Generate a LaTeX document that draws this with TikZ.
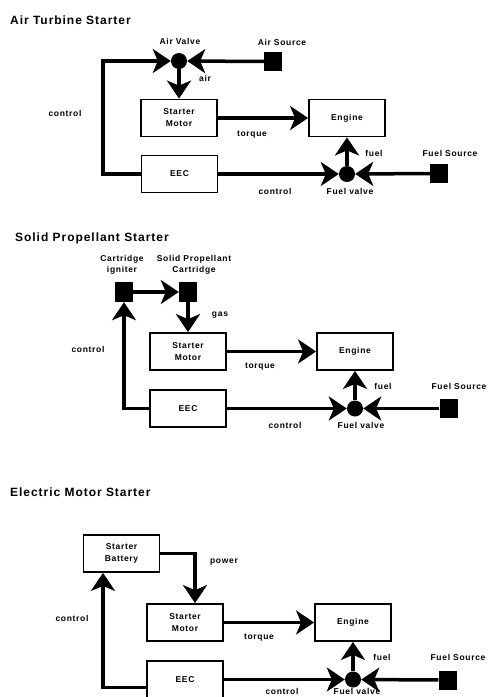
\documentclass[tikz,border=0pt]{standalone}
\usepackage{fontspec}
\setmainfont{Liberation Sans}[LetterSpace=8]
\usetikzlibrary{arrows.meta,positioning}

\begin{document}
\begin{tikzpicture}[x=1pt,y=-1pt,
  box/.style={draw, line width=1.8pt, minimum width=76pt, minimum height=37pt, align=center, inner sep=1pt, font=\fontsize{8.5}{12}\selectfont\bfseries},
  src/.style={fill, minimum width=18pt, minimum height=19pt, inner sep=0pt},
  valve/.style={circle, fill, minimum size=16pt, inner sep=0pt},
  flow/.style={-{Stealth[length=18pt, width=24pt, inset=5pt]}, line width=3.5pt},
  lbl/.style={font=\fontsize{8.5}{11}\selectfont\bfseries, inner sep=1pt, align=center},
  ttl/.style={font=\fontsize{12}{14}\selectfont\bfseries, anchor=west, inner sep=0pt}
]
  \useasboundingbox (0,0) rectangle (489,697);

  % Air Turbine Starter
  \node[ttl] (t1) at (10,20) {Air Turbine Starter};
  \node[valve] (av) at (179,61) {};
  \node[lbl] (avl) at (180,41) {Air Valve};
  \node[src] (as) at (273,61.5) {};
  \node[lbl] (asl) at (282,42) {Air Source};
  \node[box] (sm1) at (179,118) {Starter\\Motor};
  \node[box] (en1) at (347,118) {Engine};
  \node[box] (eec1) at (179.5,174) {EEC};
  \node[valve] (fv1) at (347,174) {};
  \node[src] (fs1) at (439,173.5) {};
  \node[lbl] (fsl1) at (450,153) {Fuel Source};
  \coordinate (c1) at (103,61);
  \draw[flow] (as) -- (av);
  \draw[flow] (eec1.west) -| (c1) -- (av);
  \draw[flow] (av) -- (sm1);
  \draw[flow] (sm1) -- (en1);
  \draw[flow] (eec1) -- (fv1);
  \draw[flow] (fs1) -- (fv1);
  \draw[flow] (fv1) -- (en1);
  \node[lbl] (air1) at (205,78) {air};
  \node[lbl] (ctl1a) at (65,113) {control};
  \node[lbl] (tq1) at (252,135) {torque};
  \node[lbl] (fu1) at (374,153) {fuel};
  \node[lbl] (ctl1b) at (275,191) {control};
  \node[lbl] (fvl1) at (350,191) {Fuel valve};

  % Solid Propellant Starter
  \node[ttl] (t2) at (15,238) {Solid Propellant Starter};
  \node[src, minimum height=20pt] (ig) at (124,292) {};
  \node[lbl] (igl) at (122,265) {Cartridge\\igniter};
  \node[src, minimum height=20pt] (cart) at (188,292) {};
  \node[lbl] (cartl) at (194,265) {Solid Propellant\\Cartridge};
  \node[box] (sm2) at (188,351.5) {Starter\\Motor};
  \node[box] (en2) at (355,351.5) {Engine};
  \node[box] (eec2) at (188,408.5) {EEC};
  \node[valve] (fv2) at (355,408.5) {};
  \node[src] (fs2) at (448.5,408.5) {};
  \node[lbl] (fsl2) at (459,386) {Fuel Source};
  \draw[flow] (ig) -- (cart);
  \draw[flow] (cart) -- (sm2);
  \draw[flow] (eec2.west) -| (ig);
  \draw[flow] (sm2) -- (en2);
  \draw[flow] (eec2) -- (fv2);
  \draw[flow] (fs2) -- (fv2);
  \draw[flow] (fv2) -- (en2);
  \node[lbl] (gas2) at (220,315) {gas};
  \node[lbl] (ctl2a) at (88,349) {control};
  \node[lbl] (tq2) at (260,367) {torque};
  \node[lbl] (fu2) at (383,386) {fuel};
  \node[lbl] (ctl2b) at (285,425) {control};
  \node[lbl] (fvl2) at (361,425) {Fuel valve};

  % Electric Motor Starter
  \node[ttl] (t3) at (10,492) {Electric Motor Starter};
  \node[box] (bat) at (121.5,553.5) {Starter\\Battery};
  \node[box] (sm3) at (185,622.5) {Starter\\Motor};
  \node[box] (en3) at (353,622.5) {Engine};
  \node[box] (eec3) at (185,679.5) {EEC};
  \node[valve] (fv3) at (353,679.5) {};
  \node[src] (fs3) at (447.5,680) {};
  \node[lbl] (fsl3) at (458,657) {Fuel Source};
  \draw[flow] (bat.east) -| ([xshift=10pt]sm3.north);
  \draw[flow] ([yshift=-8pt]eec3.west) -| ([xshift=-18.5pt]bat.south);
  \draw[flow] (sm3) -- (en3);
  \draw[flow] (eec3) -- (fv3);
  \draw[flow] (fs3) -- (fv3);
  \draw[flow] (fv3) -- (en3);
  \node[lbl] (pw3) at (224,562) {power};
  \node[lbl] (ctl3a) at (72,618) {control};
  \node[lbl] (tq3) at (259,638) {torque};
  \node[lbl] (fu3) at (382,657) {fuel};
  \node[lbl] (ctl3b) at (282,691) {control};
  \node[lbl] (fvl3) at (357,691) {Fuel valve};
\end{tikzpicture}
\end{document}
